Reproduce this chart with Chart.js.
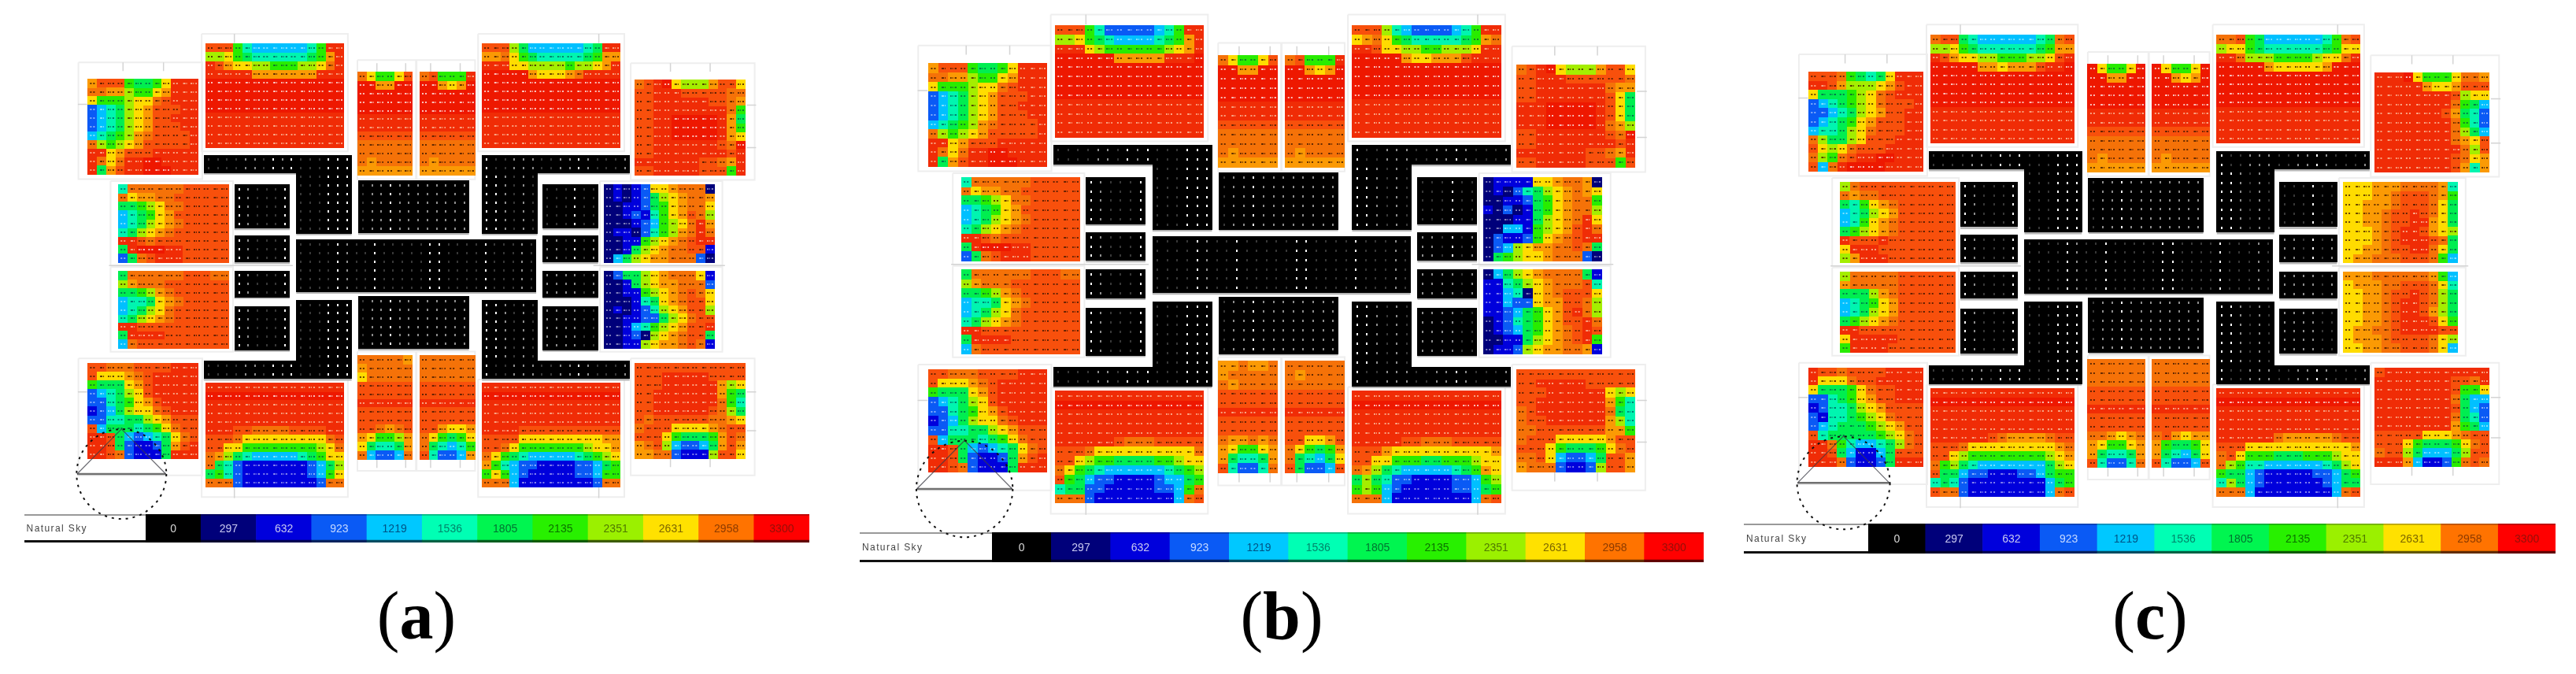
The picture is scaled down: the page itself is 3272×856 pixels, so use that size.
<!doctype html>
<html><head><meta charset="utf-8">
<style>
html,body{margin:0;padding:0;background:#fff;width:3272px;height:856px;overflow:hidden}
canvas{position:absolute}
canvas.plan{filter:blur(.75px)}
canvas.bar{filter:blur(.45px)}
.cap{position:absolute;font-family:"Liberation Serif",serif;font-size:86px;line-height:100px;transform:translateX(-50%);color:#000;white-space:nowrap}
.cap b{font-weight:700}
.box{position:absolute;background:#fff;box-sizing:border-box;border-top:2px solid #999;border-bottom:3px solid #111;font-family:"Liberation Sans",sans-serif;font-size:12px;letter-spacing:1.4px;color:#444;filter:blur(.5px);white-space:nowrap}
.box span{position:absolute;left:3px;top:50%;transform:translateY(-50%)}
</style></head><body>
<script src="https://cdn.jsdelivr.net/npm/chart.js@4"></script>
<script>
// ---- legend ----
const legendLabels=["0","297","632","923","1219","1536","1805","2135","2351","2631","2958","3300"];
const legendColors=["#000000","#00007a","#0000dc","#0a5af5","#00c8ff","#00ffb4","#00f550","#28f000","#9bf000","#ffe100","#ff7300","#ff0000"];
const legendTextColors=["#d8d8d8","#c8c8f0","#c8c8f0","#c4d8ff","rgba(0,40,90,.75)","rgba(0,90,80,.75)","rgba(0,80,40,.8)","rgba(0,70,0,.75)","rgba(60,90,0,.8)","rgba(90,70,0,.8)","rgba(110,45,0,.8)","rgba(120,20,10,.8)"];
const legendName="Natural Sky";
const captions=["a","b","c"];
// level key -> colour
const levelKeys="123456789ABCDE";
const levelColors=["#00007a","#0000dc","#0a5af5","#00c0ff","#00f5b0","#00ee50","#28ec00","#a4ee00","#ffdc00","#fb9a04","#f57208","#f8500c","#f02c06","#ee1800"];

// ---- shared fields ----
const topField=["EEEEEEEEEEEEEEE","EEEEEEEEEEEEEEE","EEEEEEEEEEEEEEE","EEEEEEEEEEEEEEE","DDDDDDDDDDDDDDD","DDDDDDDDDDDDDDD","DDDDDDDDDDDDDDD","DDDDDDDDDDDDDDD"];
const bottomField=["DDDDDDDDDDDDDDD","EEEEEEEEEEEEEEE","DDDDDDDDDDDDDDD","DDDDDDDDDDDDDDD","DDDDDDDDDDDDDDD"];
const smallTopTail=["EEEEEE","EEEEEE","EEEEEE","DDDDDD","DDDDDD","CCCCCC","BBBBBB","BBBBBB","BABBBB","AAAAAA"];

// ---- panel (a) ----
const a_tl=["ACCC76679DDD","BBAA8779ADDD","9777899BCDDD","345689ACCCDD","345689ACCDDD","345689ACCCDD","45678ABCCCCD","B8789ACCCCCD","DD9ACCCDDDDD","DB9BDDEEDDDD","D6ACDDEEEDDD"];
const a_tb1=["CCC7544444457DD","8897655555567AD","DCA9988777889BD","DDDDDAAAAAAADDD",...topField];
const a_ts1=["B9779C","EEAAEE",...smallTopTail];
const a_ts2=["BC777D","EEA9AE",...smallTopTail];
const a_tb2=["CCC8644444456DD","AAB9765555567AA","DDD9988887889AD","EEEEEA999ABDDDD",...topField];
const a_tr=["BCDE9888ACC9","CCDDDCCCCCBB","CCDDDDDDCCBA","CCDDDDDDDDB7","CCDDEEEEEDA6","CCDDEEEEEDA7","CCDDEEEEEDA9","CCDDDDDDDCBE","CCDDDDDDDDCD","DDDDDDDCCBAD","CCDDDDDCCC7D"];
const a_ml1=["5BBBBBBCCCCC","B9AABBCCCCCC","66789BBCCCCC","45679ACCCCCC","45689ABCCCCC","5689ABCCCCCC","DDCBCCCCCCCC","6DEEEDDCCCCC","36BCDDDCCCCC"];
const a_ml2=["6BBBBBBCCCBB","8ABBBCCCCCCC","6678ABCCCCCC","45569ABCCCCC","45689BCCCCCC","5689ABCCCCCC","DDCCCCCCCCCC","6DDDDCCCCCCC","4BCCCCCCCCCC"];
const a_mr1=["1212399ABBB1","12123689ABBA","11223679ABB9","11232579ACB8","111234789BDA","12213578ABDB","1122789ABCDD","112689ABBCC2","14689AABBB31"];
const a_mr2=["136689ABBB92","112689AABBB3","1122789ABCB9","1112569ABCC9","12123589ACC8","112233689BCC","11245789ACCD","1123189ABCC6","112289AABCB2"];
const a_bl=["CCBBBCCCCDDD","C999ABCDDDDD","76669ACDDDDD","345689CDDDDD","335679ACDDDD","2346899BCDDD","33556689ACCC","C46665679BCC","DDC6434569BC","DDC632236ACD","DDCB32226DDD"];
const a_bb1=[...bottomField,"DDDCCBBBBCCCCDD","CCCB999999999BC","CC997777777789B","BA8654444456799","B65322222223468","675322222223479","BBB3222222223BB"];
const a_bs1=["BBBBBA","ABBBBB","9BBBBB","CCCCCC","CCCCCC","DDDDDD","CCCCCC","CCCCCC","CCBABC","A9778A","96556A","B4334B"];
const a_bs2=["BBBBBB","BBBBBB","BBBBBB","CCCCCC","CCCCCC","DDDDDD","CCCCCC","CCCCCC","CCA99A","B97679","B65457","C5334A"];
const a_bb2=[...bottomField,"DDDDCCCCCCCCCCC","CCCC999999999AA","CCB97777777899A","B97654444456789","A75433222233467","797432222233477","BBB4222222223BB"];
const a_br=["CCCCCCCCCCCC","CCCDDDDDCCCC","CCCDDDDDDA89","CCDDDDDDDA76","CCDDDDDDDB75","CCDDDDDDCB86","CBCCCCCCBBA9","BCCC9999ABCC","CCC976667ACB","ABC843346ACA","AABB32228CC9"];

// ---- panel (b) ----
const b_tb1=["CCC7533333457DD","8897654444567AD","DDD9877777789AD","EEEEEEAAAAADDDE",...topField];
const b_tb2=["CCC8543333457DD","9AB9765555567AB","DDC9988778889DD","EEEEEA99AAACDDD",...topField];
const b_tr=["BCDE9888ACC9","CCDDDCCCCCCB","CCDDDDDDDBAA","CCDDDDDDDC96","DDDEEEEEDC96","DDDEEEEEDC96","DDDEEEEEDBA8","CCDDDDDDDCBE","CCDDDDDDDDCD","DDDDDDDCCBAD","CCDDDDDCCC7C"];
const b_mr1=["1222299ABBA1","12135689ABA9","11223679ABB7","21312679ABB8","11122689ABD9","11442789ACDB","1322379ABCDD","13489AABBCB6","167899ABBB31"];
const b_mr2=["14689ABBBB62","225689ABBBC5","224519ABCCC9","224339AACCB8","2234679ACDB8","1235679ACCDB","1234679ABCDC","1122689ABCD7","122389AABBA2"];
const b_bb1=[...bottomField,"DDDDDDCBBBCCCCC","CCCB9999999999B","CC9877666677899","B97654444445678","C76433222234467","56633222223347B","BBB3222222224BC"];
const b_bs1=["AABAAB","ABBBBB","BABBBB","CCCCCC","CCCCCC","DDDDDD","CCCCCC","CCCCCC","BAABAB","A9779A","A6556A","C5335B"];
const b_bs2=["BBBBBB","BABBBB","BBBBBB","CCCCCC","CCCCCC","DDDDDD","CCCCCC","CCCCCC","CC99AC","B9767A","B65469","C6334C"];
const b_bb2=[...bottomField,"DDDDDCCBBBCCCCC","CCCA9999999999A","CC9977766777899","BA86544444567A9","686533222233478","787432222233467","BBB4222222224BC"];
const b_br=["CCCCCCCCCCCC","CCDDDDDCCCCC","CCCDDDDDD989","CCDDDDDDDA75","BCDDDDDDDB65","BCCDDDDDDA85","BBCCCCCCCAA7","BCCC99999ACC","CCC9766679BC","BBC943346CCA","ABBB32238CCA"];

// ---- panel (c) ----
const c_tl=["CCCB76569DDD","DDCA8889ACDD","9666789BCDDD","3456789BCCCD","3345689ACCDD","345679ACCCDD","455689BCCCDD","B86689CCCDDD","C989BCCCDDDD","B87BCDDEEDDD","C4BDEEEEDDDD"];
const c_tb1=["BCC6544444456BC","8897655555567AA","DCA9988777889CD","EEEEEAA9AAACDDE",...topField];
const c_ts1=["E9779E","EEAAEE",...smallTopTail];
const c_ts2=["E9779E","EEA9AE",...smallTopTail];
const c_tb2=["BBC7644444457BC","899765555556799","DDB8887777899BD","EEEEEA99999AEEE",...topField];
const c_tr=["DDDE97779BBA","DDDDDA99ACCC","DDDDDDDDC899","DDDDDDDDB764","DDDDDDDCA653","DDDDDDDDB753","DDDDDDDDB864","DDDDDDDDBA9C","DDDDDDDDDB8C","DDDDDDDDCB9A","DDDDDDDDCA5A"];
const c_ml1=["8BCCCCCCCCCC","BABBCCCCCCCC","6579ABCCCCCC","45689ACCCCCC","4579ABCCCCCC","6789ABCCCCCC","DCCCDCCCCCCC","9DDDCCCCCCCC","8ADDDCCCCCCC"];
const c_ml2=["8BBBBBCCCCCC","ABBBBBCCCCCC","6668ABCCCCCC","45679ACCCCCC","45689ACCCCCC","6789ABCCCCCC","DDCCCCCCCCCC","9DDDDDCCCCCC","7DDDDCCCCCCC"];
const c_mr1=["999AAABBBBA5","999AABCCCBA7","99AAABCCCB96","99AABCCDCB96","99AABCCDDA96","999ABCDDCA98","999ABCDDDCB6","99AABCCDDB96","9AABBBCCCB74"];
const c_mr2=["AAABBBBBBA74","9AAABBCCCB95","99AABCCDCB86","99AABCDDCB86","99AABCDDCA86","99AABCDDDC97","9AABBCDDDDCC","9AAABCCCCB98","99AABBCCCB94"];
const c_bl=["DCCBCCCCDDDD","D999BCCDDDDD","966679BCCDDD","335679ACCDDD","2355689ACCCC","32556789BCCC","345666789ACC","C566666789BC","DDB7544568BC","DDC642246CCC","DDDB32236DDD"];
const c_bb1=[...bottomField,"DDDDDDCBAAAABCC","CCCB999999999AB","CC987777777789A","B78654444444689","C66433222334677","565322222222467","CBB3222222224BC"];
const c_bs1=["BBBBBB","BBBBBB","BBBBBB","CCCCCC","CCCCCC","DDDDDD","CCCCCC","CCCCCC","BBA9AB","A9779A","A6556A","C5335B"];
const c_bs2=["BBBBBB","BBBBBB","BBBBBB","CCCCCC","CCCCCC","DDDDDD","CCCCCC","CCCCCC","BCA9AA","A76679","A65469","C5334C"];
const c_bb2=[...bottomField,"DDDDDDBAAAAABCC","CCC99999999999A","BC9777666777899","B87554444445689","766432222233467","586432222223466","BBB4222222224BC"];
const c_br=["CDDDDDDDDDDD","DDDDDDDDCCBD","DDDDDDDDC779","DDDDDDDDB644","DDDDDDDDC643","DDDDDDDDB653","DDDDDDDDA764","CCCCC999ABCC","CCC9766679BC","BCC8644468CC","DDDA42237BCB"];

const panelGrids=[
 {tl:a_tl,tb1:a_tb1,ts1:a_ts1,ts2:a_ts2,tb2:a_tb2,tr:a_tr,ml1:a_ml1,ml2:a_ml2,mr1:a_mr1,mr2:a_mr2,bl:a_bl,bb1:a_bb1,bs1:a_bs1,bs2:a_bs2,bb2:a_bb2,br:a_br},
 {tl:a_tl,tb1:b_tb1,ts1:a_ts1,ts2:a_ts2,tb2:b_tb2,tr:b_tr,ml1:a_ml1,ml2:a_ml2,mr1:b_mr1,mr2:b_mr2,bl:a_bl,bb1:b_bb1,bs1:b_bs1,bs2:b_bs2,bb2:b_bb2,br:b_br},
 {tl:c_tl,tb1:c_tb1,ts1:c_ts1,ts2:c_ts2,tb2:c_tb2,tr:c_tr,ml1:c_ml1,ml2:c_ml2,mr1:c_mr1,mr2:c_mr2,bl:c_bl,bb1:c_bb1,bs1:c_bs1,bs2:c_bs2,bb2:c_bb2,br:c_br}
];

// ---- plan layout (plan units) ----
const cellW=11.85, cellH=11.15;
const roomOrigin={tl:[106.7,97],tb1:[258,51],ts1:[453,87],ts2:[533,87],tb2:[613,51],tr:[809,98],ml1:[146,233],ml2:[146,344],mr1:[769.5,233],mr2:[769.5,344],bl:[106.7,463],bb1:[258,489],bs1:[453,453],bs2:[533,453],bb2:[613,489],br:[809,463]};
// frame outsets: left, top, right, bottom
const roomFrame={tl:[12,22,5,6],tb1:[5,13,5,5],ts1:[0,15,4,5],ts2:[4,15,0,5],tb2:[5,13,5,5],tr:[5,22,12,6],ml1:[10,5,5,4],ml2:[10,5,5,4],mr1:[5,5,10,4],mr2:[5,5,10,4],bl:[12,6,5,22],bb1:[5,5,5,13],bs1:[0,5,4,15],bs2:[4,5,0,15],bb2:[5,5,5,13],br:[5,6,12,22]};
const wallTicks=[[152,75,152,86],[204,75,204,86],[94,129,106,129],[295,38,295,50],[763,38,763,50],[855,76,855,87],[906,76,906,87],[953,130,965,130],[953,185,965,185],
 [478,76,478,87],[515,76,515,87],[547,76,547,87],[585,76,585,87],[478,586,478,598],[515,586,515,598],[547,586,547,598],[585,586,585,598],
 [295,623,295,637],[763,623,763,637],[855,586,855,597],[906,586,906,597],[134,337,370,337],[756,337,925,337],[94,500,106,500],[953,500,965,500],[953,550,965,550]];
const blackRooms=[
 [295,233,6,5,"941128"],[295,299,6,3,"951129"],[295,344,6,3,"961129"],[295,390,6,5,"961129"],
 [256,195,16,2,"2223442768113899"],[374.5,217.3,6,7,"113899"],
 [454,228,12,6,"244854654455"],[374.5,304,26,6,"11129511733113872123832263"],[454,377,12,6,"244854654455"],
 [374.5,382,6,7,"113899"],[256,460.7,16,2,"2223442768113899"],
 [613,195,16,2,"7334453356753226"],[613,217.3,6,7,"894242"],[613,382,6,7,"894242"],[613,460.7,16,2,"7334453356753226"],
 [691,233,6,5,"113732"],[691,299,6,3,"443834"],[691,344,6,3,"554434"],[691,390,6,5,"554433"]
];
const planRange={x0:85,x1:1000,y0:30,y1:672};
const compass={cx:150,cy:606,r:57,base:[[93,606],[207,606]],sides:[[93,606],[150,548],[207,606]]};
// panel placement: plan unit -> page pixel, legend and caption in page pixels
const panels=[
 {sx:1,tx:0,sy:1,ty:0,box:[30.6,185],bar:[185,1028],barY:[653,689],cap:529,capY:732},
 {sx:1.0738,tx:1059.6,sy:1.0763,ty:-26.9,box:[1092,1260],bar:[1260,2163.5],barY:[676,714],cap:1628,capY:732},
 {sx:1.0353,tx:2182.3,sy:1.04,ty:-13.7,box:[2215,2373],bar:[2373,3246],barY:[665,703],cap:2731,capY:732}
];

// ---- sprites used as point styles ----
function sprite(w,h,paint){const c=document.createElement("canvas");c.width=w;c.height=h;paint(c.getContext("2d"));return c;}
function shade(hex,f){const n=parseInt(hex.slice(1),16);return "rgb("+[(n>>16)&255,(n>>8)&255,n&255].map(v=>Math.round(v*f)).join(",")+")";}
const speckShapes=[[[1,0,2,2],[5,0,2,2]],[[0,0,2,2],[3,0,1,2],[6,0,2,2]],[[2,0,3,2],[6,0,1,2]]];
function speckColor(k){
  if(k>=13) return "rgba(255,255,255,.72)";   // reds
  if(k===12) return "rgba(255,235,205,.62)";
  if(k>=7) return "rgba(60,20,0,.78)";        // orange, yellow, lime, green
  if(k>=4) return "rgba(0,50,70,.6)";         // sky, aqua
  return "rgba(255,255,255,.5)";              // blues
}
function buildChart(panelIndex){
  const p=panels[panelIndex], grids=panelGrids[panelIndex];
  const w=Math.ceil(cellW*p.sx), h=Math.ceil(cellH*p.sy);
  const datasets=[];
  // walls and shadows
  const walls=[], shadows=[], ticks=[];
  const gap={x:0,y:null};
  for(const key in grids){
    const g=grids[key],o=roomOrigin[key],f=roomFrame[key];
    const l=o[0]-f[0],t=o[1]-f[1],r=o[0]+g[0].length*cellW+f[2],b=o[1]+g.length*cellH+f[3];
    walls.push({x:l,y:t},{x:r,y:t},{x:r,y:b},{x:l,y:b},{x:l,y:t},gap);
  }
  for(const br of blackRooms){
    const bx=br[0],by=br[1]+br[3]*cellH+1.2;
    shadows.push({x:bx,y:by},{x:bx+br[2]*cellW,y:by},gap);
  }
  for(const t of wallTicks) ticks.push({x:t[0],y:t[1]},{x:t[2],y:t[3]},gap);
  datasets.push({data:walls,showLine:true,spanGaps:false,pointRadius:0,borderColor:"#eeeeee",borderWidth:2,order:10});
  datasets.push({data:ticks,showLine:true,spanGaps:false,pointRadius:0,borderColor:"#d4d4d4",borderWidth:1.5,order:9});
  datasets.push({data:shadows,showLine:true,spanGaps:false,pointRadius:0,borderColor:"#b4b4b4",borderWidth:2.5,order:8});
  // black cells and their small white values
  const blackCells=[], dots=[[],[],[]];
  for(const br of blackRooms){
    for(let j=0;j<br[3];j++)for(let i=0;i<br[2];i++){
      const x=br[0]+(i+.5)*cellW,y=br[1]+(j+.5)*cellH;
      blackCells.push({x,y});
      const d=+br[4][i];
      dots[d>=7?2:d>=4?1:0].push({x,y});
    }
  }
  datasets.push({data:blackCells,pointStyle:sprite(w,h,c=>{c.fillStyle="#000";c.fillRect(0,0,w,h);}),order:7});
  [.22,.55,1].forEach((alpha,n)=>datasets.push({data:dots[n],pointStyle:sprite(2,3,c=>{c.fillStyle="rgba(255,255,255,"+alpha+")";c.fillRect(0,0,2,3);}),order:5}));
  // heat cells, grouped by level
  const byLevel=levelKeys.split("").map(()=>[]);
  const specks={};
  for(const key in grids){
    const g=grids[key],o=roomOrigin[key];
    g.forEach((row,j)=>{
      for(let i=0;i<row.length;i++){
        const k=levelKeys.indexOf(row[i]);
        const pt={x:o[0]+(i+.5)*cellW,y:o[1]+(j+.5)*cellH};
        byLevel[k].push(pt);
        const id=k+"_"+((i*5+j*3)%3);
        (specks[id]=specks[id]||[]).push(pt);
      }
    });
  }
  byLevel.forEach((pts,k)=>datasets.push({data:pts,pointStyle:sprite(w,h,c=>{c.fillStyle=levelColors[k];c.fillRect(0,0,w,h);}),order:6}));
  for(const id in specks){
    const [k,v]=id.split("_").map(Number);
    datasets.push({data:specks[id],pointStyle:sprite(8,2,c=>{c.fillStyle=speckColor(k);speckShapes[v].forEach(s=>c.fillRect(...s));}),order:4});
  }
  // north compass
  datasets.push({data:compass.base.map(a=>({x:a[0],y:a[1]})),showLine:true,pointRadius:0,borderColor:"#707070",borderWidth:2.5,order:2});
  datasets.push({data:compass.sides.map(a=>({x:a[0],y:a[1]})),showLine:true,pointRadius:0,borderColor:"rgba(60,60,70,.75)",borderWidth:1.2,order:1});
  const cv=document.createElement("canvas");
  cv.className="plan";
  const R=planRange;
  cv.width=Math.round((R.x1-R.x0)*p.sx);cv.height=Math.round((R.y1-R.y0)*p.sy);
  cv.style.left=(R.x0*p.sx+p.tx)+"px";cv.style.top=(R.y0*p.sy+p.ty)+"px";
  document.body.appendChild(cv);
  new Chart(cv,{type:"scatter",data:{datasets},
    options:{responsive:false,animation:false,devicePixelRatio:1,events:[],layout:{padding:0},
      elements:{point:{radius:4}},
      datasets:{scatter:{clip:false}},
      plugins:{legend:{display:false},tooltip:{enabled:false},title:{display:false}},
      scales:{x:{type:"linear",display:false,min:R.x0,max:R.x1},y:{type:"linear",display:false,reverse:true,min:R.y0,max:R.y1}}},
    plugins:[{id:"compassRing",afterDatasetsDraw(ch){
      const c=ch.ctx;c.save();c.setLineDash([3,6]);c.lineWidth=2;c.strokeStyle="#111";c.beginPath();
      c.arc(ch.scales.x.getPixelForValue(compass.cx),ch.scales.y.getPixelForValue(compass.cy),compass.r*p.sx,0,Math.PI*2);
      c.stroke();c.restore();}}]
  });
}
function buildLegend(panelIndex){
  const p=panels[panelIndex];
  const w=p.bar[1]-p.bar[0],h=p.barY[1]-p.barY[0];
  const box=document.createElement("div");box.className="box";
  box.style.cssText="left:"+p.box[0]+"px;top:"+p.barY[0]+"px;width:"+(p.box[1]-p.box[0])+"px;height:"+h+"px";
  const sp=document.createElement("span");sp.textContent=legendName;box.appendChild(sp);document.body.appendChild(box);
  const cv=document.createElement("canvas");cv.className="bar";
  cv.width=Math.round(w);cv.height=h;cv.style.left=p.bar[0]+"px";cv.style.top=p.barY[0]+"px";
  document.body.appendChild(cv);
  const one=legendLabels.map(()=>1);
  new Chart(cv,{type:"bar",
    data:{labels:legendLabels,datasets:[
      {data:one.map(()=>3),backgroundColor:legendColors.map(c=>shade(c,.38))},
      {data:one.map(()=>h-5),backgroundColor:legendColors},
      {data:one.map(()=>2),backgroundColor:legendColors.map(c=>shade(c,.72))}
    ]},
    options:{responsive:false,animation:false,devicePixelRatio:1,events:[],layout:{padding:0},
      datasets:{bar:{barPercentage:1,categoryPercentage:1,borderWidth:0}},
      plugins:{legend:{display:false},tooltip:{enabled:false}},
      scales:{
        x:{stacked:true,display:false},
        y:{stacked:true,display:false,min:0,max:h}
      }},
    plugins:[{id:"legendValues",afterDatasetsDraw(ch){
      const c=ch.ctx,sx=ch.scales.x;c.save();
      c.font='14px "Liberation Sans Narrow","Liberation Sans",sans-serif';
      c.textAlign="center";c.textBaseline="middle";
      legendLabels.forEach((t,i)=>{c.fillStyle=legendTextColors[i];c.fillText(t,sx.getPixelForValue(i),h*.53);});
      c.restore();}}]
  });
  const cap=document.createElement("div");cap.className="cap";
  cap.style.left=p.cap+"px";cap.style.top=p.capY+"px";
  cap.append("(");const b=document.createElement("b");b.textContent=captions[panelIndex];cap.append(b);cap.append(")");
  document.body.appendChild(cap);
}
[0,1,2].forEach(buildLegend);
[0,1,2].forEach(buildChart);
</script>
</body></html>
